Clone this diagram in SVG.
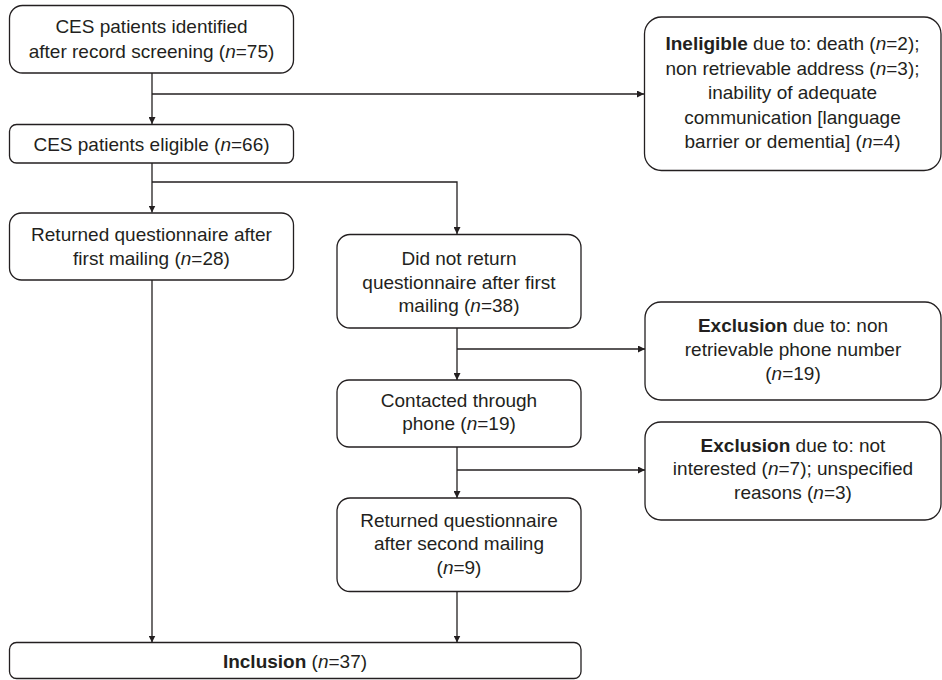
<svg xmlns="http://www.w3.org/2000/svg" width="942" height="680" viewBox="0 0 942 680">
<defs>
<style>
.box{fill:#fff;stroke:#231f20;stroke-width:1.3}
.t{font-family:"Liberation Sans",Arial,sans-serif;font-size:19px;fill:#231f20;text-anchor:middle}
.b{font-weight:bold}
.i{font-style:italic}
.c{fill:none;stroke:#231f20;stroke-width:1.3}
</style>
<marker id="ah" viewBox="0 0 10 10" refX="10" refY="5" markerWidth="7" markerHeight="7" markerUnits="userSpaceOnUse" orient="auto">
<path d="M0,0 L10,5 L0,10 z" fill="#231f20"/>
</marker>
</defs>
<rect width="942" height="680" fill="#fff"/>
<g id="connectors">
<path class="c" d="M152,73 V124" marker-end="url(#ah)"/>
<path class="c" d="M152,94 H644" marker-end="url(#ah)"/>
<path class="c" d="M152,163 V212.5" marker-end="url(#ah)"/>
<path class="c" d="M152,182 H457 V234" marker-end="url(#ah)"/>
<path class="c" d="M152,280 V642.5" marker-end="url(#ah)"/>
<path class="c" d="M457,328 V380" marker-end="url(#ah)"/>
<path class="c" d="M457,349 H645" marker-end="url(#ah)"/>
<path class="c" d="M457,447 V498" marker-end="url(#ah)"/>
<path class="c" d="M457,470 H645" marker-end="url(#ah)"/>
<path class="c" d="M457,592 V642.5" marker-end="url(#ah)"/>
</g>
<g id="n1">
<rect class="box" x="9.5" y="5.5" width="284" height="67.5" rx="13"/>
<text class="t" x="151.5" y="33">CES patients identified</text>
<text class="t" x="151.5" y="58">after record screening (<tspan class="i">n</tspan>=75)</text>
</g>
<g id="n2">
<rect class="box" x="9.5" y="124.5" width="284" height="38.5" rx="7"/>
<text class="t" x="151.5" y="151">CES patients eligible (<tspan class="i">n</tspan>=66)</text>
</g>
<g id="n3">
<rect class="box" x="644.5" y="17" width="296.5" height="153.5" rx="17"/>
<text class="t" x="792.5" y="50"><tspan class="b">Ineligible</tspan> due to: death (<tspan class="i">n</tspan>=2);</text>
<text class="t" x="792.5" y="74.5">non retrievable address (<tspan class="i">n</tspan>=3);</text>
<text class="t" x="792.5" y="99">inability of adequate</text>
<text class="t" x="792.5" y="123.5">communication [language</text>
<text class="t" x="792.5" y="148">barrier or dementia] (<tspan class="i">n</tspan>=4)</text>
</g>
<g id="n4">
<rect class="box" x="9.5" y="213" width="284" height="67" rx="12"/>
<text class="t" x="151.5" y="241">Returned questionnaire after</text>
<text class="t" x="151.5" y="264.5">first mailing (<tspan class="i">n</tspan>=28)</text>
</g>
<g id="n5">
<rect class="box" x="337" y="234.5" width="244" height="93.5" rx="13"/>
<text class="t" x="459" y="265">Did not return</text>
<text class="t" x="459" y="288.5">questionnaire after first</text>
<text class="t" x="459" y="312">mailing (<tspan class="i">n</tspan>=38)</text>
</g>
<g id="n6">
<rect class="box" x="645" y="302" width="296" height="98" rx="16"/>
<text class="t" x="793" y="331.5"><tspan class="b">Exclusion</tspan> due to: non</text>
<text class="t" x="793" y="356">retrievable phone number</text>
<text class="t" x="793" y="380"><tspan>(</tspan><tspan class="i">n</tspan>=19)</text>
</g>
<g id="n7">
<rect class="box" x="337" y="380" width="244" height="67" rx="12"/>
<text class="t" x="459" y="406.5">Contacted through</text>
<text class="t" x="459" y="430">phone (<tspan class="i">n</tspan>=19)</text>
</g>
<g id="n8">
<rect class="box" x="645" y="422" width="296" height="98" rx="16"/>
<text class="t" x="793" y="451.5"><tspan class="b">Exclusion</tspan> due to: not</text>
<text class="t" x="793" y="475">interested (<tspan class="i">n</tspan>=7); unspecified</text>
<text class="t" x="793" y="498.5">reasons (<tspan class="i">n</tspan>=3)</text>
</g>
<g id="n9">
<rect class="box" x="337" y="498" width="244" height="93.5" rx="13"/>
<text class="t" x="459" y="526.5">Returned questionnaire</text>
<text class="t" x="459" y="550">after second mailing</text>
<text class="t" x="459" y="573.5"><tspan>(</tspan><tspan class="i">n</tspan>=9)</text>
</g>
<g id="n10">
<rect class="box" x="9.5" y="642.5" width="571.5" height="36" rx="7"/>
<text class="t" x="295" y="668"><tspan class="b">Inclusion</tspan> (<tspan class="i">n</tspan>=37)</text>
</g>
</svg>
